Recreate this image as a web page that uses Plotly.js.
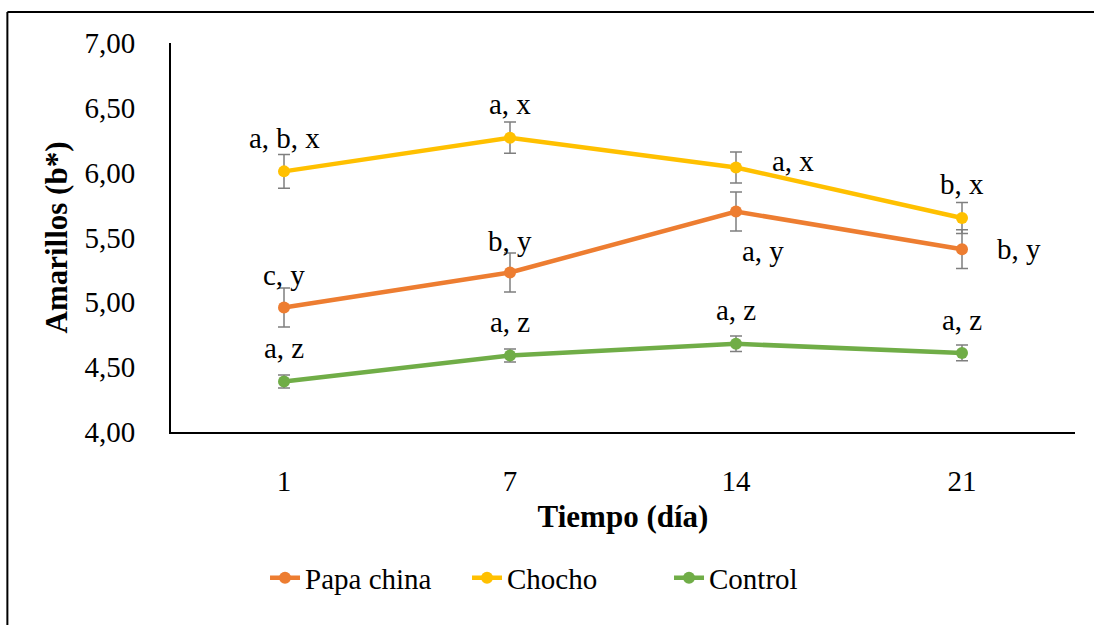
<!DOCTYPE html>
<html>
<head>
<meta charset="utf-8">
<script src="https://cdn.plot.ly/plotly-3.0.1.min.js"></script>
<style>html,body{margin:0;padding:0;background:#fff;}#chart{width:1094px;height:625px;}</style>
</head>
<body>
<div id="chart"></div>
<script>
const days = ["1", "7", "14", "21"];
const papaChina = [4.96, 5.23, 5.70, 5.41];
const papaChinaErr = [0.15, 0.15, 0.15, 0.15];
const chocho = [6.01, 6.27, 6.04, 5.65];
const chochoErr = [0.13, 0.12, 0.12, 0.12];
const control = [4.39, 4.59, 4.68, 4.61];
const controlErr = [0.05, 0.05, 0.06, 0.06];
const papaLabels = ["c, y", "b, y", "a, y", "b, y"];
const chochoLabels = ["a, b, x", "a, x", "a, x", "b, x"];
const controlLabels = ["a, z", "a, z", "a, z", "a, z"];
const yTicks = [4.0, 4.5, 5.0, 5.5, 6.0, 6.5, 7.0];
const yTickText = ["4,00", "4,50", "5,00", "5,50", "6,00", "6,50", "7,00"];

const font = "'Liberation Serif', 'Times New Roman', serif";
function trace(name, y, err, color) {
  return {
    type: "scatter", mode: "lines+markers", name: name, x: days, y: y,
    line: {color: color, width: 4.5},
    marker: {color: color, size: 12},
    error_y: {type: "data", array: err, visible: true, color: "#7f7f7f", thickness: 1.5, width: 6}
  };
}
const data = [
  trace("Papa china", papaChina, papaChinaErr, "#ED7D31"),
  trace("Chocho", chocho, chochoErr, "#FFC000"),
  trace("Control", control, controlErr, "#70AD47")
];

const papaShift = [[0, 33], [0, 32], [27, -39], [57, 0]];
const chochoShift = [[0, 33], [0, 34], [57, 6], [0, 34]];
const controlShift = [[0, 33], [0, 34], [0, 34], [0, 33]];
const annotations = [];
function addLabels(vals, labels, shifts) {
  vals.forEach((v, i) => annotations.push({
    x: i, y: v, xref: "x", yref: "y", text: labels[i], showarrow: false,
    xshift: shifts[i][0], yshift: shifts[i][1],
    font: {family: font, size: 29, color: "#000"}
  }));
}
addLabels(papaChina, papaLabels, papaShift);
addLabels(chocho, chochoLabels, chochoShift);
addLabels(control, controlLabels, controlShift);

const layout = {
  width: 1094, height: 625,
  margin: {l: 171, r: 19, t: 43, b: 193},
  paper_bgcolor: "#fff", plot_bgcolor: "#fff",
  font: {family: font, size: 29, color: "#000"},
  showlegend: true,
  legend: {orientation: "h", x: 0.104, xanchor: "left", xref: "paper", y: -0.375, yanchor: "middle",
           font: {family: font, size: 29, color: "#000"}, itemwidth: 30, entrywidth: 157, tracegroupgap: 0},
  xaxis: {
    type: "category", range: [-0.5, 3.5], showgrid: false, zeroline: false,
    showline: true, linecolor: "#000", linewidth: 2, ticks: "", ticklabelstandoff: 22,
    tickfont: {family: font, size: 29, color: "#000"},
    title: {text: "<b>Tiempo (día)</b>", font: {family: font, size: 31, color: "#000"}, standoff: 10}
  },
  yaxis: {
    range: [4.0, 7.0], tickvals: yTicks, ticktext: yTickText, showgrid: false, zeroline: false,
    showline: true, linecolor: "#000", linewidth: 2, ticks: "", ticklabelstandoff: 28,
    tickfont: {family: font, size: 29, color: "#000"},
    title: {text: "<b>Amarillos (b*)</b>", font: {family: font, size: 31, color: "#000"}, standoff: 8}
  },
  annotations: annotations,
  shapes: [
    {type: "line", xref: "paper", yref: "paper", x0: -0.181, x1: 1.04, y0: 1.0797, y1: 1.0797, line: {color: "#000", width: 2}},
    {type: "line", xref: "paper", yref: "paper", x0: -0.181, x1: -0.181, y0: 1.0797, y1: -0.5, line: {color: "#000", width: 2}}
  ]
};
Plotly.newPlot("chart", data, layout, {displayModeBar: false, staticPlot: true});
</script>
</body>
</html>
